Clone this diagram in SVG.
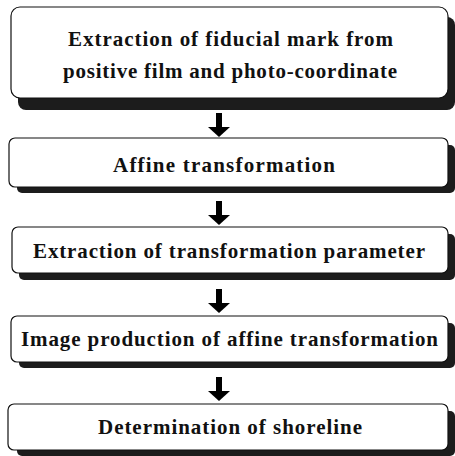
<svg xmlns="http://www.w3.org/2000/svg" width="455" height="456" viewBox="0 0 455 456">
<style>
.box{fill:#fff;stroke:#111;stroke-width:1.2}
.sh{fill:#1c1c1c}
.t{font-family:"Liberation Serif","Times New Roman",serif;font-weight:bold;font-size:21px;fill:#111}
.c{stroke:#000;stroke-width:6;fill:none}
</style>
<defs>
<marker id="ah" viewBox="0 -11 10 22" refX="0" refY="0" markerWidth="10" markerHeight="22" markerUnits="userSpaceOnUse" orient="auto">
<path d="M0,-11 L10,0 L0,11 z" fill="#000"/>
</marker>
</defs>
<rect width="455" height="456" fill="#fff"/>
<g id="n1">
<rect class="sh" x="18" y="17" width="437" height="93" rx="8"/>
<rect class="box" x="11" y="7" width="437" height="91" rx="9"/>
<text class="t" x="68" y="46" textLength="325" lengthAdjust="spacing">Extraction of fiducial mark from</text>
<text class="t" x="63" y="78" textLength="334" lengthAdjust="spacing">positive film and photo-coordinate</text>
</g>
<g id="n2">
<rect class="sh" x="17" y="145" width="438" height="48" rx="5"/>
<rect class="box" x="9" y="138" width="439" height="49" rx="6"/>
<text class="t" x="113" y="172" textLength="222" lengthAdjust="spacing">Affine transformation</text>
</g>
<g id="n3">
<rect class="sh" x="19" y="234" width="436" height="46" rx="5"/>
<rect class="box" x="12" y="227" width="436" height="46" rx="6"/>
<text class="t" x="33" y="258" textLength="392" lengthAdjust="spacing">Extraction of transformation parameter</text>
</g>
<g id="n4">
<rect class="sh" x="19" y="323" width="436" height="45" rx="5"/>
<rect class="box" x="11" y="316" width="437" height="46" rx="6"/>
<text class="t" x="21" y="346" textLength="417" lengthAdjust="spacing">Image production of affine transformation</text>
</g>
<g id="n5">
<rect class="sh" x="17" y="411" width="438" height="45" rx="5"/>
<rect class="box" x="8" y="404" width="440" height="46" rx="6"/>
<text class="t" x="98" y="434" textLength="264" lengthAdjust="spacing">Determination of shoreline</text>
</g>
<g id="connectors">
<line class="c" x1="219" y1="113" x2="219" y2="127" marker-end="url(#ah)"/>
<line class="c" x1="219" y1="201" x2="219" y2="215" marker-end="url(#ah)"/>
<line class="c" x1="219" y1="289" x2="219" y2="303" marker-end="url(#ah)"/>
<line class="c" x1="219" y1="377" x2="219" y2="391" marker-end="url(#ah)"/>
</g>
</svg>
